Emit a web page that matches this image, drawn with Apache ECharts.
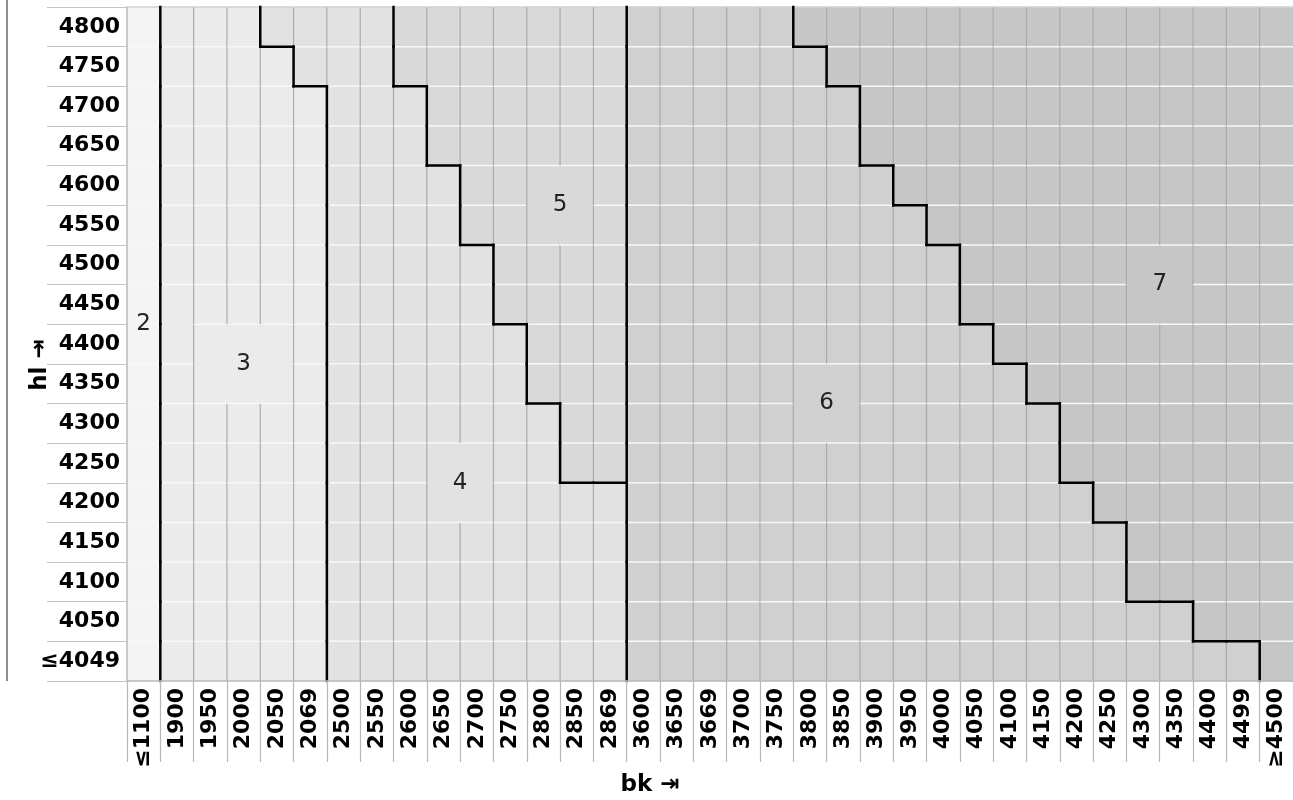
<!DOCTYPE html>
<html>
<head>
<meta charset="utf-8">
<script src="https://cdn.jsdelivr.net/npm/echarts@6/dist/echarts.min.js"></script>
<style>
html,body{margin:0;padding:0;background:#fff;}
#chart{width:1293px;height:800px;}
</style>
</head>
<body>
<div id="chart"></div>
<script>
// ---- data ----
const xCategories = ['≤1100','1900','1950','2000','2050','2069','2500','2550','2600','2650','2700','2750','2800','2850','2869','3600','3650','3669','3700','3750','3800','3850','3900','3950','4000','4050','4100','4150','4200','4250','4300','4350','4400','4499','≥4500'];
// bottom -> top
const yCategories = ['≤4049','4050','4100','4150','4200','4250','4300','4350','4400','4450','4500','4550','4600','4650','4700','4750','4800'];

// first bk category of each zone, per hl row (bottom -> top); null = zone absent in that row
const zone2From = yCategories.map(() => '≤1100');
const zone3From = yCategories.map(() => '1900');
const zone4From = ['2500','2500','2500','2500','2500','2500','2500','2500','2500','2500','2500','2500','2500','2500','2500','2069','2050'];
const zone5From = [null,null,null,null,null,'2850','2850','2800','2800','2750','2750','2700','2700','2650','2650','2600','2600'];
const zone6From = yCategories.map(() => '3600');
const zone7From = ['≥4500','4400','4300','4300','4250','4200','4200','4150','4100','4050','4050','4000','3950','3900','3900','3850','3800'];

const zoneValues = [2, 3, 4, 5, 6, 7];
const zoneColors = ['#f4f4f4', '#ebebeb', '#e2e2e2', '#d9d9d9', '#d0d0d0', '#c6c6c6'];

// zone labels: bk categories and hl categories that the label sits between
const zoneLabels = ['2', '3', '4', '5', '6', '7'];
const labelCols = [['≤1100'], ['2000'], ['2650','2700'], ['2800','2850'], ['3800','3850'], ['4300','4350']];
const labelRows = [['4450','4400'], ['4400','4350'], ['4250','4200'], ['4600','4550'], ['4350','4300'], ['4500','4450']];

const xName = 'bk ⇥';
const yName = 'hl ⇥';

// ---- build cell table ----
const nX = xCategories.length, nY = yCategories.length;
const zoneStarts = [zone2From, zone3From, zone4From, zone5From, zone6From, zone7From];
const zoneGrid = [];
for (let r = 0; r < nY; r++) {
  const row = [];
  for (let c = 0; c < nX; c++) {
    let z = null;
    zoneStarts.forEach((arr, k) => {
      const s = arr[r];
      if (s !== null && xCategories.indexOf(s) <= c) z = zoneValues[k];
    });
    row.push(z);
  }
  zoneGrid.push(row);
}
const cells = [];
for (let r = 0; r < nY; r++) for (let c = 0; c < nX; c++) cells.push([c, r, zoneGrid[r][c]]);

const mean = a => a.reduce((s, v) => s + v, 0) / a.length;
const labelPts = zoneLabels.map((t, i) => [
  mean(labelCols[i].map(v => xCategories.indexOf(v))),
  mean(labelRows[i].map(v => yCategories.indexOf(v)))
]);
const HW = 0.75, HH = 0.5; // label clearing box, in cell units

function hiddenV(c, r) { // vertical segment right of cell c in row r
  const b = c + 0.5;
  return labelPts.some(([lx, ly]) => Math.abs(b - lx) < HW && (r - 0.5 < ly + HH) && (r + 0.5 > ly - HH));
}
function hiddenH(c, r) { // horizontal segment on top of cell c in row r
  const b = r + 0.5;
  return labelPts.some(([lx, ly]) => Math.abs(b - ly) < HH && (c - 0.5 < lx + HW) && (c + 0.5 > lx - HW));
}

function cellBox(api) {
  const c = api.value(0), r = api.value(1);
  const p = api.coord([c, r]);
  const s = api.size([1, 1]);
  return { c, r, x0: p[0] - s[0] / 2, x1: p[0] + s[0] / 2, yt: p[1] - s[1] / 2, yb: p[1] + s[1] / 2 };
}
function seg(x1, y1, x2, y2, stroke, w, cap) {
  return { type: 'line', shape: { x1, y1, x2, y2 }, style: { stroke, lineWidth: w, lineCap: cap || 'butt' }, silent: true };
}

const font = '"DejaVu Sans", "Liberation Sans", sans-serif';
const axisLabelStyle = { fontFamily: font, fontWeight: 'bold', fontSize: 22, color: '#000' };

const chart = echarts.init(document.getElementById('chart'), null, { renderer: 'canvas' });
chart.setOption({
  animation: false,
  backgroundColor: '#fff',
  grid: { left: 127, right: 0, top: 7, bottom: 119, containLabel: false },
  xAxis: {
    type: 'category', data: xCategories, z: 10,
    axisLine: { show: true, lineStyle: { color: '#b8b8b8', width: 1.5 } },
    axisTick: { show: true, length: 81, lineStyle: { color: '#b8b8b8', width: 1.2 } },
    axisLabel: Object.assign({ interval: 0, rotate: 90, margin: 7 }, axisLabelStyle),
    splitLine: { show: false }
  },
  yAxis: {
    type: 'category', data: yCategories, z: 10,
    axisLine: { show: true, lineStyle: { color: '#b8b8b8', width: 1.5 } },
    axisTick: { show: true, length: 80, lineStyle: { color: '#c4c4c4', width: 1.2 } },
    axisLabel: Object.assign({ interval: 0, margin: 7 }, axisLabelStyle),
    splitLine: { show: false }
  },
  visualMap: {
    type: 'piecewise', show: false, dimension: 2, seriesIndex: 0,
    pieces: zoneValues.map((v, i) => ({ value: v, color: zoneColors[i] }))
  },
  graphic: [
    { type: 'line', shape: { x1: 7, y1: 0, x2: 7, y2: 681 }, style: { stroke: '#444', lineWidth: 1.2 } },
    { type: 'text', x: 40, y: 365, rotation: Math.PI / 2,
      style: { text: yName, font: 'bold 23px ' + font, fill: '#000', align: 'center', verticalAlign: 'middle' } },
    { type: 'text', x: 650, y: 785,
      style: { text: xName, font: 'bold 23px ' + font, fill: '#000', align: 'center', verticalAlign: 'middle' } }
  ],
  series: [
    {
      type: 'heatmap', z: 1, data: cells,
      itemStyle: { borderWidth: 0 },
      emphasis: { disabled: true }, label: { show: false }
    },
    {
      type: 'custom', z: 2, data: cells, silent: true,
      renderItem(params, api) {
        const b = cellBox(api);
        const ch = [];
        const z = zoneGrid[b.r][b.c];
        if (b.r < nY - 1 && zoneGrid[b.r + 1][b.c] === z && !hiddenH(b.c, b.r)) ch.push(seg(b.x0, b.yt, b.x1, b.yt, '#f7f7f7', 1.5));
        if (b.r === nY - 1) ch.push(seg(b.x0, b.yt, b.x1, b.yt, '#d2d2d2', 1.5));
        if (b.c < nX - 1 && zoneGrid[b.r][b.c + 1] === z && !hiddenV(b.c, b.r)) ch.push(seg(b.x1, b.yt, b.x1, b.yb, '#aaaaaa', 1.2));
        return { type: 'group', children: ch };
      }
    },
    {
      type: 'custom', z: 3, data: cells, silent: true,
      renderItem(params, api) {
        const b = cellBox(api);
        const ch = [];
        const z = zoneGrid[b.r][b.c];
        if (b.c < nX - 1 && zoneGrid[b.r][b.c + 1] !== z) ch.push(seg(b.x1, b.yt, b.x1, b.yb, '#000', 2.5, 'square'));
        if (b.r < nY - 1 && zoneGrid[b.r + 1][b.c] !== z) ch.push(seg(b.x0, b.yt, b.x1, b.yt, '#000', 2.5, 'square'));
        return { type: 'group', children: ch };
      }
    },
    {
      type: 'custom', z: 4, silent: true,
      data: labelPts.map((p, i) => ({ value: [0, 0], name: zoneLabels[i] })),
      renderItem(params, api) {
        const p0 = api.coord([0, 0]);
        const s = api.size([1, 1]);
        const [lx, ly] = labelPts[params.dataIndex];
        return {
          type: 'text', x: p0[0] + lx * s[0], y: p0[1] - ly * s[1], silent: true,
          style: { text: zoneLabels[params.dataIndex], font: '23px ' + font, fill: '#222', align: 'center', verticalAlign: 'middle' }
        };
      }
    }
  ]
});
</script>
</body>
</html>
